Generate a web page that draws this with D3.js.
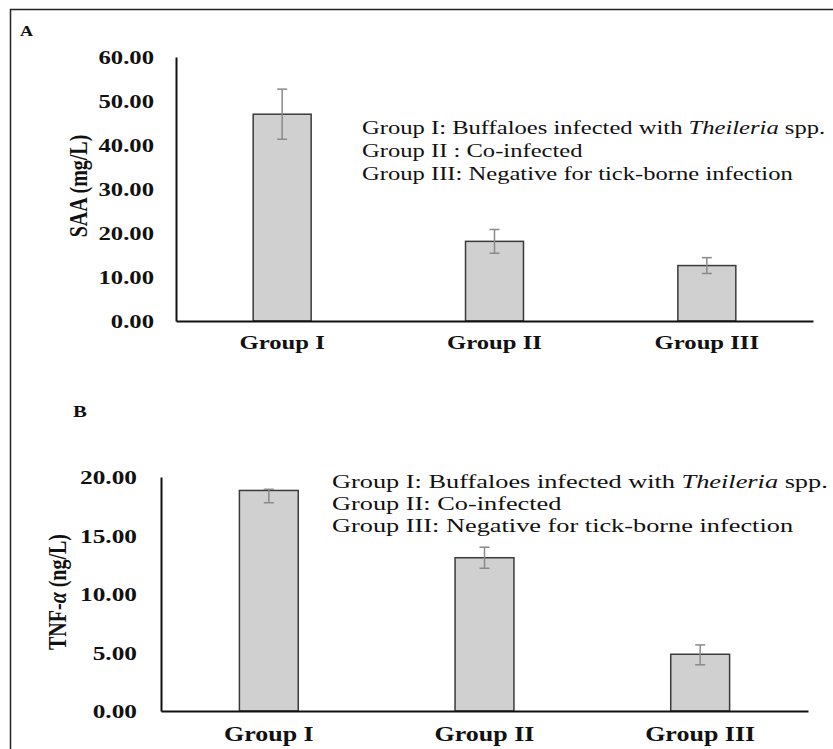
<!DOCTYPE html>
<html>
<head>
<meta charset="utf-8">
<script src="https://cdn.jsdelivr.net/npm/d3@7"></script>
<style>
  body { margin: 0; background: #fff; }
  svg { display: block; font-family: "Liberation Serif", "Times New Roman", serif; }
</style>
</head>
<body>
<svg id="chart" width="833" height="749"></svg>
<script>
// Groups and values
const groups = ["Group I", "Group II", "Group III"];

const saaMean = [47.0, 18.1, 12.6];
const saaErrUp = [5.7, 2.7, 1.8];
const saaErrDown = [5.7, 2.7, 1.8];
const saaTicks = [0, 10, 20, 30, 40, 50, 60];

const tnfMean = [18.85, 13.1, 4.85];
const tnfErrUp = [0.1, 0.9, 0.8];
const tnfErrDown = [1.05, 0.9, 0.9];
const tnfTicks = [0, 5, 10, 15, 20];

const legendLines = [
    ["Group I: Buffaloes infected with ", "Theileria", " spp."],
    ["Group II : Co-infected"],
    ["Group III: Negative  for tick-borne infection"]
];
const legendLinesB = [
    ["Group I: Buffaloes infected with ", "Theileria", " spp."],
    ["Group II: Co-infected"],
    ["Group III: Negative  for tick-borne infection"]
];

const svg = d3.select("#chart");

// frame round the whole figure (right and bottom edges are cut off)
svg.append("path")
    .attr("d", "M10.5,760 V9.5 H840")
    .attr("fill", "none")
    .attr("stroke", "#222")
    .attr("stroke-width", 1.5);

// the figure text looks stretched sideways, so scale text in x
function placeText(sel, x, y, sx) {
    return sel.attr("transform", `translate(${x},${y}) scale(${sx},1)`);
}

function drawChart(cfg) {
    const g = svg.append("g");

    const x = d3.scaleBand()
        .domain(groups)
        .range([cfg.left, cfg.right])
        .paddingInner(0.727)
        .paddingOuter(0.727 / 2);

    const y = d3.scaleLinear()
        .domain([0, cfg.max])
        .range([cfg.bottom, cfg.top]);

    const data = groups.map((name, i) => ({
        name: name,
        mean: cfg.mean[i],
        up: cfg.errUp[i],
        down: cfg.errDown[i]
    }));

    // bars
    g.selectAll("rect.bar")
        .data(data)
        .enter()
        .append("rect")
        .attr("class", "bar")
        .attr("x", d => x(d.name))
        .attr("y", d => y(d.mean))
        .attr("width", x.bandwidth())
        .attr("height", d => y(0) - y(d.mean))
        .attr("fill", "#d1d0d1")
        .attr("stroke", "#3a3a3a")
        .attr("stroke-width", 1.5);

    // error bars
    const err = g.selectAll("g.err")
        .data(data)
        .enter()
        .append("g")
        .attr("class", "err")
        .attr("stroke", "#8a8a8a")
        .attr("stroke-width", 1.5);

    const cx = d => x(d.name) + x.bandwidth() / 2;
    err.append("line")
        .attr("x1", cx).attr("x2", cx)
        .attr("y1", d => y(d.mean + d.up))
        .attr("y2", d => y(d.mean - d.down));
    err.append("line")
        .attr("x1", d => cx(d) - 5).attr("x2", d => cx(d) + 5)
        .attr("y1", d => y(d.mean + d.up))
        .attr("y2", d => y(d.mean + d.up));
    err.append("line")
        .attr("x1", d => cx(d) - 5).attr("x2", d => cx(d) + 5)
        .attr("y1", d => y(d.mean - d.down))
        .attr("y2", d => y(d.mean - d.down));

    // axes
    const yAxis = g.append("g")
        .attr("transform", `translate(${cfg.left},0)`)
        .call(d3.axisLeft(y).tickValues(cfg.ticks).tickSize(0).tickPadding(0).tickFormat(d3.format(".2f")));
    yAxis.select(".domain").attr("stroke", "#111").attr("stroke-width", 2);
    yAxis.selectAll(".tick text").each(function(d) {
        d3.select(this)
            .attr("x", 0).attr("dy", null)
            .attr("font-size", cfg.tickSize)
            .attr("font-weight", "bold")
            .attr("font-family", "Liberation Serif, serif")
            .attr("fill", "#111")
            .attr("text-anchor", "end");
        placeText(d3.select(this), cfg.tickX - cfg.left, 0.35 * cfg.tickSize, 1.3);
    });

    const xAxis = g.append("g")
        .attr("transform", `translate(0,${cfg.bottom})`)
        .call(d3.axisBottom(x).tickSize(0).tickFormat(""));
    xAxis.select(".domain").attr("stroke", "#111").attr("stroke-width", 2);

    g.selectAll("text.xlab")
        .data(groups)
        .enter()
        .append("text")
        .attr("class", "xlab")
        .attr("text-anchor", "middle")
        .attr("font-size", cfg.xSize)
        .attr("font-weight", "bold")
        .attr("fill", "#111")
        .text(d => d)
        .each(function(d) {
            placeText(d3.select(this), x(d) + x.bandwidth() / 2, cfg.xLabelY, 1.3);
        });

    // y title
    const yt = g.append("text")
        .attr("text-anchor", "middle")
        .attr("font-size", cfg.titleSize)
        .attr("font-weight", "bold")
        .attr("fill", "#111")
        .attr("transform", `translate(${cfg.titleX},${cfg.titleY}) rotate(-90) scale(1,1.25)`);
    cfg.title.forEach(part => {
        yt.append("tspan")
            .attr("font-style", part.italic ? "italic" : null)
            .text(part.text);
    });

    // panel letter
    placeText(g.append("text")
        .attr("font-size", cfg.letterSize)
        .attr("font-weight", "bold")
        .attr("fill", "#111")
        .text(cfg.letter), cfg.letterX, cfg.letterY, 1.3);

    // legend text
    cfg.legend.forEach((line, i) => {
        const t = g.append("text")
            .attr("font-size", cfg.legendSize)
            .attr("fill", "#111");
        placeText(t, cfg.legendX, cfg.legendY + i * cfg.legendStep, cfg.legendScale);
        line.forEach((part, j) => {
            t.append("tspan")
                .attr("font-style", j === 1 ? "italic" : null)
                .text(part);
        });
    });
}

drawChart({
    left: 176, right: 813, top: 57, bottom: 321, max: 60,
    mean: saaMean, errUp: saaErrUp, errDown: saaErrDown, ticks: saaTicks,
    tickX: 154, tickSize: 19, xSize: 19, xLabelY: 349,
    title: [{ text: "SAA (mg/L)" }], titleX: 87, titleY: 186, titleSize: 20,
    letter: "A", letterX: 20, letterY: 36, letterSize: 14,
    legend: legendLines, legendX: 362, legendY: 134, legendStep: 23,
    legendSize: 18.5, legendScale: 1.33
});

drawChart({
    left: 161, right: 808, top: 477, bottom: 711, max: 20,
    mean: tnfMean, errUp: tnfErrUp, errDown: tnfErrDown, ticks: tnfTicks,
    tickX: 137, tickSize: 19.5, xSize: 20, xLabelY: 741,
    title: [{ text: "TNF-" }, { text: "α", italic: true }, { text: " (ng/L)" }],
    titleX: 66, titleY: 592, titleSize: 20,
    letter: "B", letterX: 73, letterY: 417, letterSize: 16,
    legend: legendLinesB, legendX: 332, legendY: 488, legendStep: 22,
    legendSize: 19.5, legendScale: 1.35
});
</script>
</body>
</html>
